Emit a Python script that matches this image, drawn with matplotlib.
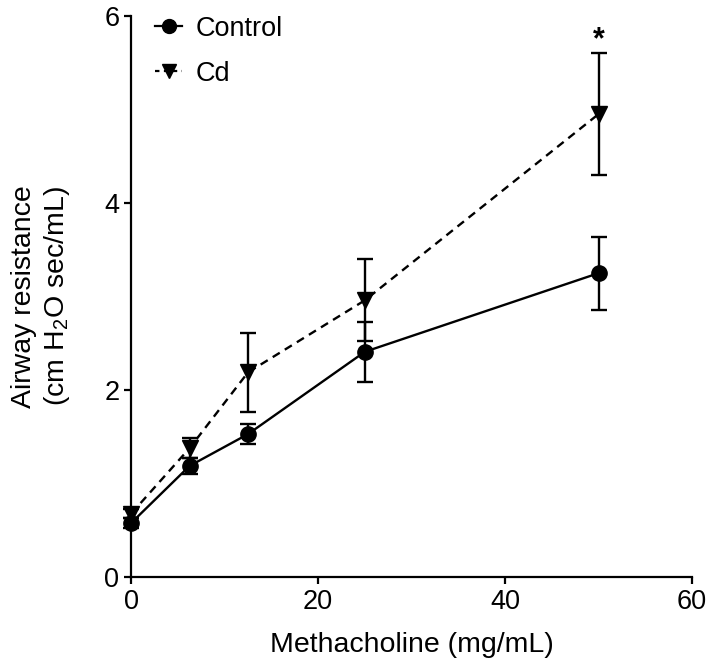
import numpy as np
import matplotlib
matplotlib.use("Agg")
import matplotlib.pyplot as plt
from matplotlib.lines import Line2D

plt.rcParams['font.family'] = ['Liberation Sans', 'DejaVu Sans']
plt.rcParams['mathtext.fontset'] = 'custom'
plt.rcParams['mathtext.rm'] = 'Liberation Sans'
plt.rcParams['mathtext.it'] = 'Liberation Sans:italic'
plt.rcParams['mathtext.default'] = 'regular'

# datos
dosis = [0, 6.25, 12.5, 25, 50]
control = [0.58, 1.19, 1.53, 2.41, 3.25]
control_err = [0.05, 0.09, 0.11, 0.32, 0.39]
cd = [0.68, 1.38, 2.19, 2.96, 4.95]
cd_err = [0.05, 0.11, 0.42, 0.44, 0.65]

fig = plt.figure(figsize=(7.09, 6.62), dpi=100)
ax = fig.add_axes([0.185, 0.128, 0.791, 0.848])

ax.errorbar(dosis, control, yerr=control_err, color='black', marker='o', markersize=11,
            linestyle='-', linewidth=1.7, elinewidth=1.7, capsize=6, capthick=1.7, clip_on=False)
ax.errorbar(dosis, cd, yerr=cd_err, color='black', marker='v', markersize=11,
            linestyle=(0, (3.5, 2.5)), linewidth=1.7, elinewidth=1.7, capsize=6, capthick=1.7, clip_on=False)

ax.text(50, 5.74, '*', ha='center', va='center', fontsize=22, fontweight='bold')

ax.set_xlim(0, 60)
ax.set_ylim(0, 6)
ax.set_xticks([0, 20, 40, 60])
ax.set_yticks([0, 2, 4, 6])
ax.spines['top'].set_visible(False)
ax.spines['right'].set_visible(False)
ax.spines['left'].set_linewidth(1.6)
ax.spines['bottom'].set_linewidth(1.6)
ax.tick_params(direction='out', length=5, width=1.6, labelsize=19.5)
ax.set_xlabel('Methacholine (mg/mL)', fontsize=20.5, labelpad=12)
ax.set_ylabel('Airway resistance\n(cm H$_2$O sec/mL)', fontsize=20.5)
ax.yaxis.set_label_coords(-0.106, 0.5)

handles = [Line2D([], [], color='black', marker='o', markersize=10, linestyle='-', linewidth=1.6),
           Line2D([], [], color='black', marker='v', markersize=10, linestyle=(0, (2, 2)), linewidth=1.6)]
leg = ax.legend(handles, ['Control', 'Cd'], loc='upper left', frameon=False, fontsize=19.5,
                handlelength=1.0, handletextpad=0.5, labelspacing=0.7,
                borderaxespad=0.0, borderpad=0.0, bbox_to_anchor=(0.043, 1.0))

fig.savefig('out.png', dpi=100)
